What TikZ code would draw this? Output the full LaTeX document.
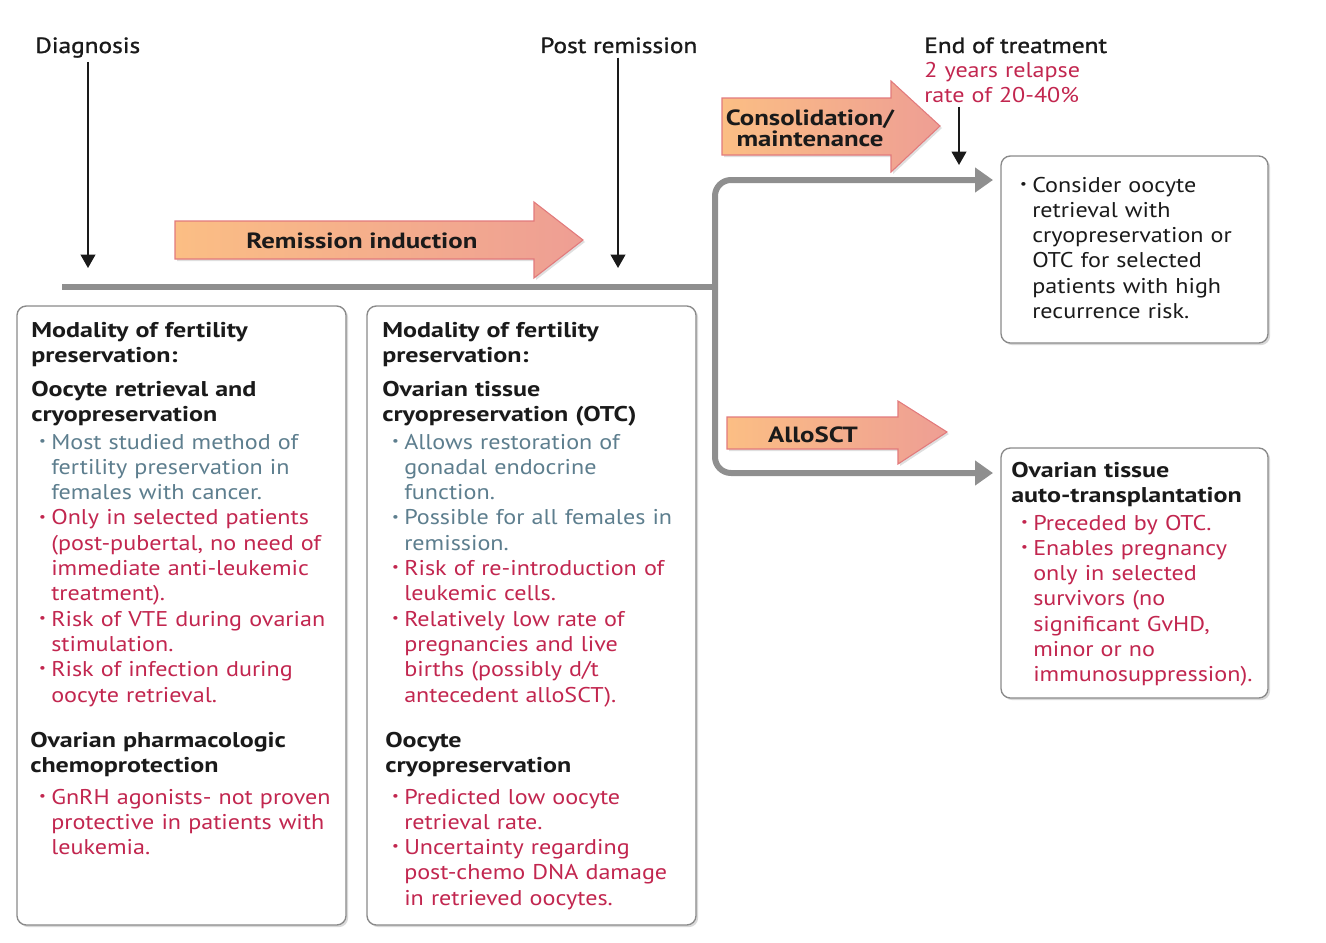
\documentclass[tikz,border=0pt]{standalone}
\usepackage{fontspec}
\setmainfont{PT Sans}[FakeStretch=1.13]
\newfontfamily\hb[FakeStretch=1.22]{PT Sans}
\newfontfamily\semib[FakeBold=1.2,FakeStretch=1.15]{PT Sans}
\usetikzlibrary{shadows,arrows.meta}
\definecolor{rd}{HTML}{C2264F}
\definecolor{gb}{HTML}{5D7E8E}
\definecolor{ink}{HTML}{1A1A1A}
\definecolor{barc}{HTML}{8F8F8F}
\definecolor{bordc}{HTML}{8A8A8A}
\definecolor{arL}{HTML}{FBBE84}
\definecolor{arR}{HTML}{EE9E94}
\definecolor{arB}{HTML}{E27A7C}
\newcommand\bodyfont{\fontsize{16}{18.975}\selectfont}
\newcommand\hd{\hb\bfseries}
\newcommand\bl{\leavevmode\llap{\raisebox{0.18em}{\fontsize{10}{10}\selectfont\textbullet}\hspace{4pt}}}
\tikzset{
  box/.style={draw=bordc, line width=1pt, rounded corners=7pt, fill=white,
    drop shadow={shadow xshift=1.6pt, shadow yshift=-1.6pt, opacity=0.3}},
  txt/.style={anchor=base west, inner sep=0pt, align=left, text width=260pt, font=\bodyfont, text=ink},
  lbl/.style={anchor=base west, inner sep=0pt, font=\fontsize{16.5}{18.975}\selectfont\semib, text=ink},
  blk/.style={line width=1.3pt, draw=ink, -{Triangle[length=10pt,width=11pt]}, shorten <=3pt},
  bar/.style={line width=4.5pt, draw=barc},
  barr/.style={bar, rounded corners=12pt, {Triangle[length=13.5pt,width=18pt]}-{Triangle[length=13.5pt,width=18pt]}},
  big/.style={left color=arL, right color=arR, draw=arB, line width=0.8pt,
    drop shadow={shadow xshift=1.5pt, shadow yshift=-1.5pt, opacity=0.25}},
  bigtxt/.style={inner sep=0pt, font=\fontsize{16.5}{15.75}\selectfont\hd, text=ink, align=center}
}
\begin{document}
\begin{tikzpicture}[x=0.75pt,y=-0.75pt]
\useasboundingbox (0,0) rectangle (1326,942);

% ---------- timeline bar ----------
\coordinate (tl0) at (62,287);
\coordinate (jx) at (715,287);
\coordinate (a1) at (993,180);
\coordinate (a2) at (993,473);
\draw[barr] (a1) -| (jx) |- (a2);
\draw[bar] (tl0) -- (jx);

% ---------- big arrows ----------
\path[big] (175,221) -- (534,221) -- (534,202) -- (583,240) -- (534,278) -- (534,259) -- (175,259) -- cycle;
\node[bigtxt, anchor=base] (ri) at (362,248) {Remission induction};

\path[big] (722,98) -- (891,98) -- (891,81) -- (940,126) -- (891,172) -- (891,155) -- (722,155) -- cycle;
\node[bigtxt, anchor=base] (cm) at (810,146) {Consolidation/\\maintenance};

\path[big] (727,417) -- (898,417) -- (898,401) -- (947,432) -- (898,464) -- (898,449) -- (727,449) -- cycle;
\node[bigtxt, anchor=base] (as) at (813,442) {AlloSCT};

% ---------- top labels ----------
\node[lbl] (diag) at (35,53) {Diagnosis};
\node[lbl] (post) at (540,53) {Post remission};
\node[lbl] (eot) at (924,53) {End of treatment};
\node[txt, text=rd, text width=200pt] (rel) at (924,77) {2 years relapse\\rate of 20-40\%};
\coordinate (d1) at (88,268);
\coordinate (p1) at (618,268);
\coordinate (e1) at (959,165);
\draw[blk] (diag.south -| d1) -- (d1);
\draw[blk] (post.south -| p1) -- (p1);
\draw[blk] (rel.south west -| e1) -- (e1);

% ---------- boxes ----------
\node[box, minimum width=246.75pt, minimum height=464.25pt] (bx1) at (181.5,615.5) {};
\node[box, minimum width=246.75pt, minimum height=464.25pt] (bx2) at (531.5,615.5) {};
\node[box, minimum width=200.25pt, minimum height=140.25pt] (rb1) at (1134.5,249.5) {};
\node[box, minimum width=200.25pt, minimum height=187.5pt] (rb2) at (1134.5,573) {};

% ---------- box 1 text ----------
\node[txt] (b1a) at (31,337) {\hd Modality of fertility\\preservation:};
\node[txt] (b1b) at (31,396) {\hd Oocyte retrieval and\\cryopreservation};
\node[txt] (b1c) at (51,449) {\color{gb}\bl Most studied method of\\
fertility preservation in\\
females with cancer.\\
\color{rd}\bl Only in selected patients\\
(post-pubertal, no need of\\
immediate anti-leukemic\\
treatment).\\
\bl Risk of VTE during ovarian\\
stimulation.\\
\bl Risk of infection during\\
oocyte retrieval.};
\node[txt] (b1d) at (30,747) {\hd Ovarian pharmacologic\\chemoprotection};
\node[txt, text=rd] (b1e) at (51,804) {\bl GnRH agonists- not proven\\
protective in patients with\\
leukemia.};

% ---------- box 2 text ----------
\node[txt] (b2a) at (382,337) {\hd Modality of fertility\\preservation:};
\node[txt] (b2b) at (382,396) {\hd Ovarian tissue\\cryopreservation (OTC)};
\node[txt] (b2c) at (404,449) {\color{gb}\bl Allows restoration of\\
gonadal endocrine\\
function.\\
\bl Possible for all females in\\
remission.\\
\color{rd}\bl Risk of re-introduction of\\
leukemic cells.\\
\bl Relatively low rate of\\
pregnancies and live\\
births (possibly d/t\\
antecedent alloSCT).};
\node[txt] (b2d) at (385,747) {\hd Oocyte\\cryopreservation};
\node[txt, text=rd] (b2e) at (404,804) {\bl Predicted low oocyte\\
retrieval rate.\\
\bl Uncertainty regarding\\
post-chemo DNA damage\\
in retrieved oocytes.};

% ---------- right boxes text ----------
\node[txt] (r1t) at (1032,192) {\bl Consider oocyte\\
retrieval with\\
cryopreservation or\\
OTC for selected\\
patients with high\\
recurrence risk.};
\node[txt] (r2a) at (1011,477) {\hd Ovarian tissue\\auto-transplantation};
\node[txt, text=rd] (r2b) at (1033,530) {\bl Preceded by OTC.\\
\bl Enables pregnancy\\
only in selected\\
survivors (no\\
significant GvHD,\\
minor or no\\
immunosuppression).};
\end{tikzpicture}
\end{document}
